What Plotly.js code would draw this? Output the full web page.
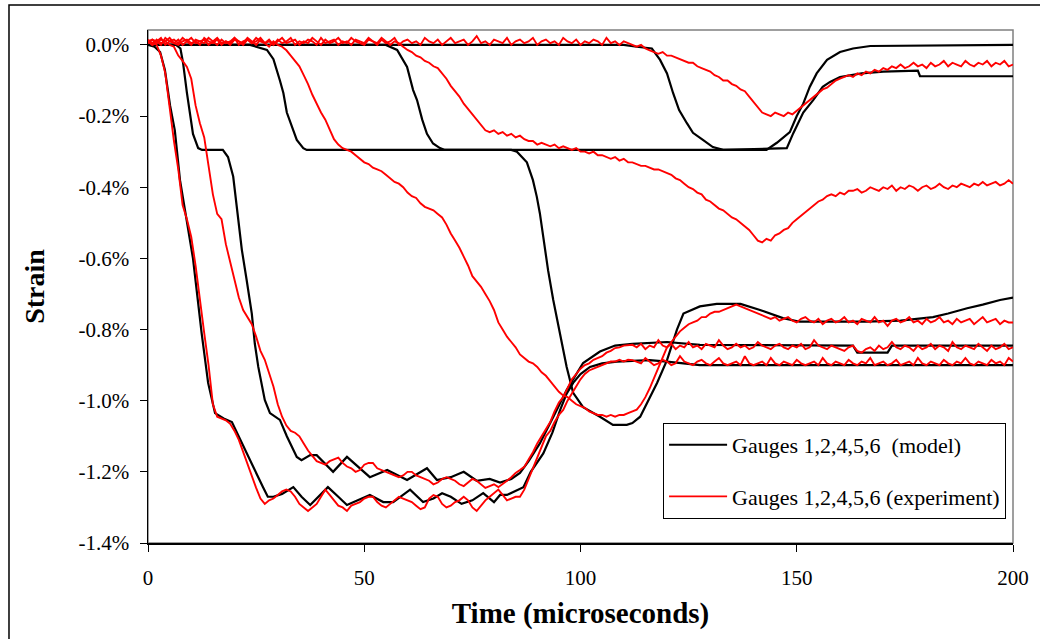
<!DOCTYPE html>
<html>
<head>
<meta charset="utf-8">
<script src="https://cdn.plot.ly/plotly-3.0.1.min.js"></script>
<style>html,body{margin:0;padding:0;background:#fff;}#chart{width:1040px;height:639px;}</style>
</head>
<body>
<div id="chart"></div>
<script>
// ---- Model curves (time in microseconds, strain in %) ----
const g1T = [0,1.5,2.8,3.9,5.1,6.2,7.4,8.5,10.4,12.4,13.9,15.5,17.5,19.4,21.3,24.3,26.6,27.7,29,31,33.6,35.5,37.5,39.5,41.6,44,46,48.5,51.3,54.4,56.7,60.6,63.6,66,68,70,72.5,75,77.5,80,81.4,83,86.8,88.5,91.4,93.5,95.3,96.8,98.3,100,102.2,105,108.4,112,116,120,123.8,127.6,200];
const g1S = [0,-0.005,-0.02,-0.07,-0.17,-0.24,-0.38,-0.46,-0.6,-0.81,-0.95,-1.035,-1.05,-1.06,-1.11,-1.185,-1.243,-1.27,-1.27,-1.262,-1.243,-1.27,-1.293,-1.27,-1.243,-1.27,-1.293,-1.28,-1.265,-1.285,-1.285,-1.25,-1.285,-1.275,-1.26,-1.27,-1.29,-1.28,-1.26,-1.285,-1.265,-1.265,-1.243,-1.2,-1.148,-1.09,-1.026,-0.98,-0.95,-0.925,-0.905,-0.895,-0.89,-0.888,-0.886,-0.89,-0.894,-0.9,-0.9];

const g2T = [0,6.5,7.5,8.1,9,9.7,10.4,11.6,12.5,17.3,18.5,19.7,20.5,21.7,22.8,24,24.7,25.5,27,28.2,30.5,32.1,34.4,35.5,37.5,39,42.8,46,51.3,55.3,59.9,64.5,66.8,70,73,76,79,81.4,84,86,88,90.6,93.7,96.8,100.6,104.5,108,112,120,127.6,163,164,171,172,200];
const g2S = [0,0,-0.01,-0.05,-0.135,-0.19,-0.25,-0.29,-0.295,-0.295,-0.315,-0.37,-0.455,-0.576,-0.66,-0.755,-0.84,-0.905,-0.998,-1.035,-1.054,-1.1,-1.158,-1.167,-1.153,-1.153,-1.2,-1.158,-1.215,-1.195,-1.223,-1.19,-1.223,-1.215,-1.2,-1.225,-1.22,-1.23,-1.22,-1.203,-1.17,-1.12,-1.046,-0.97,-0.894,-0.862,-0.845,-0.84,-0.835,-0.843,-0.845,-0.865,-0.865,-0.845,-0.845];

const g4T = [0,23.6,27.5,29,30.5,31.3,32.1,33.3,34.4,35.9,36.7,84,85.3,87.6,89,89.9,90.6,91.4,92.5,93.7,95.3,96.8,98.3,100.6,104.5,107.5,110.7,112,113.8,115.4,117.7,120,122.3,123.8,127.6,131.5,137,141.5,146.8,150.7,166,174,181.5,185,189.4,193,197,200];
const g4S = [0,0,-0.014,-0.04,-0.1,-0.135,-0.19,-0.23,-0.267,-0.29,-0.295,-0.295,-0.3,-0.33,-0.38,-0.427,-0.473,-0.54,-0.633,-0.717,-0.81,-0.905,-0.978,-1.018,-1.045,-1.068,-1.068,-1.063,-1.045,-1.007,-0.95,-0.886,-0.8,-0.755,-0.735,-0.728,-0.728,-0.745,-0.768,-0.778,-0.778,-0.775,-0.765,-0.755,-0.74,-0.73,-0.717,-0.71];

const g5T = [0,55,57.6,59.9,61.3,62.2,63.4,64.5,65.9,67.5,68.5,143,145.4,148.4,150,151.5,153,154.6,157,160,163,167,200];
const g5S = [0,0,-0.014,-0.062,-0.127,-0.155,-0.21,-0.25,-0.277,-0.29,-0.295,-0.295,-0.275,-0.245,-0.2,-0.165,-0.118,-0.08,-0.042,-0.02,-0.01,-0.003,0];

const g6T = [0,110,113,116.5,118.4,120,121.4,122.8,124.6,126,128.3,130.6,133,147.7,149.2,151.5,153.8,156,157.7,160,165,170,178,178.5,200];
const g6S = [0,0,-0.005,-0.01,-0.042,-0.08,-0.135,-0.183,-0.22,-0.247,-0.267,-0.287,-0.295,-0.29,-0.248,-0.19,-0.155,-0.118,-0.104,-0.09,-0.08,-0.075,-0.072,-0.088,-0.088];

// ---- Experiment curves: one sample per microsecond from t = 0 to 200 (strain in %) ----
const r1S = [0.01,0.015,0.0,-0.03,-0.08,-0.18,-0.27,-0.35,-0.45,-0.49,
-0.54,-0.62,-0.72,-0.81,-0.9,-1.01,-1.045,-1.05,-1.055,-1.065,
-1.085,-1.11,-1.145,-1.18,-1.215,-1.245,-1.275,-1.29,-1.28,-1.275,
-1.265,-1.255,-1.25,-1.255,-1.27,-1.29,-1.3,-1.31,-1.3,-1.29,
-1.27,-1.25,-1.265,-1.28,-1.295,-1.3,-1.31,-1.295,-1.29,-1.285,
-1.275,-1.27,-1.27,-1.285,-1.295,-1.3,-1.29,-1.28,-1.27,-1.275,
-1.28,-1.285,-1.295,-1.305,-1.3,-1.275,-1.265,-1.27,-1.29,-1.3,
-1.295,-1.285,-1.28,-1.27,-1.28,-1.3,-1.31,-1.295,-1.28,-1.27,
-1.26,-1.25,-1.265,-1.28,-1.275,-1.27,-1.27,-1.25,-1.22,-1.19,
-1.165,-1.13,-1.1,-1.085,-1.06,-1.04,-1.026,-1.0,-0.98,-0.96,
-0.94,-0.925,-0.915,-0.91,-0.905,-0.9,-0.895,-0.89,-0.89,-0.885,
-0.89,-0.885,-0.886,-0.89,-0.895,-0.88,-0.89,-0.9,-0.895,-0.885,
-0.89,-0.9,-0.895,-0.875,-0.89,-0.895,-0.9,-0.89,-0.885,-0.895,
-0.9,-0.89,-0.88,-0.895,-0.9,-0.895,-0.89,-0.9,-0.875,-0.895,
-0.9,-0.895,-0.89,-0.9,-0.88,-0.895,-0.9,-0.89,-0.895,-0.9,
-0.885,-0.895,-0.9,-0.895,-0.89,-0.9,-0.88,-0.895,-0.9,-0.89,
-0.895,-0.9,-0.885,-0.895,-0.9,-0.89,-0.895,-0.88,-0.9,-0.895,
-0.89,-0.9,-0.895,-0.885,-0.9,-0.895,-0.89,-0.9,-0.88,-0.895,
-0.9,-0.89,-0.895,-0.9,-0.885,-0.895,-0.9,-0.89,-0.895,-0.88,
-0.895,-0.9,-0.89,-0.895,-0.9,-0.885,-0.895,-0.89,-0.9,-0.88,
-0.89];

const r2S = [0.01,0.0,0.015,0.005,0.01,0.0,-0.005,-0.03,-0.045,-0.062,
-0.095,-0.17,-0.22,-0.26,-0.34,-0.42,-0.475,-0.49,-0.56,-0.61,
-0.66,-0.71,-0.745,-0.765,-0.785,-0.82,-0.86,-0.885,-0.92,-0.96,
-1.01,-1.045,-1.07,-1.085,-1.09,-1.1,-1.12,-1.14,-1.155,-1.17,
-1.175,-1.18,-1.17,-1.165,-1.16,-1.175,-1.185,-1.19,-1.2,-1.195,
-1.18,-1.175,-1.175,-1.19,-1.195,-1.2,-1.205,-1.21,-1.215,-1.21,
-1.2,-1.2,-1.21,-1.215,-1.22,-1.225,-1.235,-1.23,-1.22,-1.215,
-1.22,-1.225,-1.235,-1.24,-1.23,-1.22,-1.225,-1.235,-1.245,-1.24,
-1.235,-1.243,-1.235,-1.225,-1.215,-1.203,-1.195,-1.186,-1.165,-1.145,
-1.12,-1.1,-1.08,-1.06,-1.03,-1.005,-0.99,-0.965,-0.94,-0.925,
-0.91,-0.9,-0.895,-0.885,-0.88,-0.875,-0.865,-0.86,-0.852,-0.85,
-0.845,-0.845,-0.843,-0.85,-0.84,-0.855,-0.845,-0.85,-0.83,-0.845,
-0.85,-0.84,-0.855,-0.845,-0.85,-0.835,-0.85,-0.845,-0.855,-0.84,
-0.845,-0.85,-0.83,-0.845,-0.855,-0.85,-0.84,-0.85,-0.845,-0.855,
-0.85,-0.835,-0.845,-0.85,-0.855,-0.845,-0.84,-0.85,-0.855,-0.845,
-0.85,-0.84,-0.855,-0.85,-0.83,-0.845,-0.85,-0.855,-0.845,-0.85,
-0.855,-0.86,-0.85,-0.845,-0.86,-0.865,-0.855,-0.85,-0.86,-0.845,
-0.855,-0.85,-0.835,-0.85,-0.855,-0.845,-0.85,-0.86,-0.845,-0.855,
-0.85,-0.84,-0.855,-0.845,-0.85,-0.86,-0.835,-0.85,-0.855,-0.845,
-0.85,-0.855,-0.84,-0.85,-0.86,-0.845,-0.855,-0.85,-0.84,-0.855,
-0.85];

const r4S = [0.005,0.015,0.01,0.0,0.02,0.01,0.005,0.015,0.0,0.01,
0.02,0.005,0.01,0.015,0.0,0.01,0.02,0.005,0.01,0.0,
0.015,0.01,0.005,0.02,0.01,0.0,0.015,0.005,-0.005,0.01,
0.0,-0.005,-0.015,-0.03,-0.045,-0.06,-0.085,-0.11,-0.14,-0.165,
-0.19,-0.21,-0.24,-0.265,-0.28,-0.29,-0.295,-0.3,-0.31,-0.32,
-0.33,-0.335,-0.345,-0.35,-0.355,-0.365,-0.375,-0.385,-0.39,-0.4,
-0.415,-0.425,-0.43,-0.445,-0.455,-0.46,-0.465,-0.475,-0.485,-0.505,
-0.53,-0.55,-0.57,-0.595,-0.62,-0.65,-0.665,-0.68,-0.7,-0.72,
-0.745,-0.78,-0.8,-0.82,-0.835,-0.85,-0.87,-0.88,-0.89,-0.895,
-0.905,-0.92,-0.93,-0.945,-0.96,-0.975,-0.985,-0.99,-1.0,-1.01,
-1.015,-1.02,-1.03,-1.035,-1.04,-1.04,-1.045,-1.04,-1.045,-1.04,
-1.04,-1.035,-1.03,-1.025,-1.01,-0.99,-0.965,-0.935,-0.905,-0.875,
-0.85,-0.835,-0.82,-0.805,-0.795,-0.785,-0.78,-0.775,-0.765,-0.765,
-0.755,-0.75,-0.75,-0.745,-0.74,-0.735,-0.73,-0.735,-0.74,-0.745,
-0.75,-0.755,-0.76,-0.765,-0.77,-0.765,-0.775,-0.77,-0.765,-0.775,
-0.78,-0.77,-0.765,-0.775,-0.78,-0.77,-0.785,-0.775,-0.77,-0.78,
-0.775,-0.765,-0.78,-0.775,-0.785,-0.77,-0.775,-0.78,-0.765,-0.78,
-0.775,-0.79,-0.775,-0.77,-0.78,-0.775,-0.765,-0.78,-0.775,-0.785,
-0.77,-0.78,-0.775,-0.765,-0.78,-0.775,-0.785,-0.77,-0.78,-0.775,
-0.77,-0.785,-0.775,-0.765,-0.78,-0.775,-0.77,-0.785,-0.775,-0.78,
-0.78];

const r5S = [0.01,0.0,0.005,0.015,0.01,0.02,0.005,0.0,0.01,0.015,
0.005,0.01,0.0,0.02,0.01,0.005,0.015,0.0,0.01,0.005,
0.02,0.01,0.0,0.015,0.005,0.01,0.02,0.005,0.01,0.0,
0.015,0.005,0.01,0.02,0.0,0.01,0.005,0.015,0.01,0.0,
0.02,0.005,0.01,0.015,0.0,0.01,0.005,0.02,0.01,0.005,
0.0,0.015,0.01,0.005,0.02,0.01,0.0,0.01,0.005,-0.005,
-0.014,-0.02,-0.03,-0.035,-0.045,-0.05,-0.06,-0.065,-0.08,-0.095,
-0.115,-0.13,-0.145,-0.165,-0.18,-0.195,-0.21,-0.225,-0.24,-0.245,
-0.24,-0.25,-0.245,-0.255,-0.25,-0.26,-0.255,-0.265,-0.27,-0.27,
-0.28,-0.275,-0.28,-0.285,-0.28,-0.29,-0.285,-0.29,-0.295,-0.29,
-0.3,-0.3,-0.305,-0.3,-0.31,-0.31,-0.315,-0.32,-0.315,-0.325,
-0.32,-0.33,-0.33,-0.335,-0.34,-0.34,-0.345,-0.35,-0.35,-0.355,
-0.36,-0.365,-0.375,-0.38,-0.39,-0.4,-0.405,-0.415,-0.42,-0.435,
-0.44,-0.45,-0.46,-0.465,-0.475,-0.485,-0.49,-0.5,-0.51,-0.52,
-0.535,-0.55,-0.555,-0.545,-0.55,-0.535,-0.53,-0.52,-0.515,-0.5,
-0.49,-0.48,-0.47,-0.46,-0.45,-0.44,-0.435,-0.425,-0.42,-0.425,
-0.415,-0.42,-0.41,-0.41,-0.405,-0.415,-0.41,-0.4,-0.405,-0.41,
-0.4,-0.405,-0.395,-0.41,-0.4,-0.405,-0.395,-0.4,-0.41,-0.4,
-0.395,-0.405,-0.4,-0.39,-0.4,-0.405,-0.395,-0.4,-0.39,-0.395,
-0.4,-0.39,-0.395,-0.385,-0.395,-0.39,-0.385,-0.395,-0.39,-0.38,
-0.39];

const r6S = [0.015,0.005,0.01,0.02,0.0,0.01,0.015,0.005,0.02,0.01,
0.0,0.015,0.01,0.005,0.02,0.01,0.0,0.015,0.005,0.01,
0.02,0.0,0.01,0.015,0.005,0.02,0.01,0.005,0.015,0.0,
0.01,0.02,0.005,0.01,0.015,0.0,0.01,0.005,0.02,0.01,
0.0,0.015,0.005,0.01,0.02,0.005,0.01,0.0,0.015,0.01,
0.005,0.02,0.01,0.0,0.015,0.005,0.01,0.02,0.0,0.01,
0.015,0.005,0.01,0.0,0.02,0.01,0.005,0.015,0.0,0.01,
0.02,0.005,0.01,0.015,0.0,0.01,0.025,0.005,0.01,0.0,
0.015,0.01,0.005,0.02,0.0,0.01,0.015,0.005,0.01,0.02,
0.0,0.01,0.015,0.005,0.01,0.0,0.02,0.01,0.005,0.015,
0.0,0.01,0.005,0.015,0.01,0.0,0.02,0.005,0.01,0.0,
0.01,0.005,0.0,-0.005,0.0,-0.01,-0.015,-0.02,-0.025,-0.02,
-0.03,-0.03,-0.035,-0.04,-0.045,-0.05,-0.05,-0.06,-0.065,-0.07,
-0.075,-0.085,-0.09,-0.1,-0.1,-0.11,-0.115,-0.125,-0.13,-0.145,
-0.16,-0.175,-0.19,-0.195,-0.2,-0.19,-0.195,-0.2,-0.19,-0.195,
-0.185,-0.175,-0.165,-0.155,-0.145,-0.135,-0.125,-0.12,-0.11,-0.1,
-0.095,-0.09,-0.085,-0.09,-0.08,-0.085,-0.075,-0.08,-0.07,-0.075,
-0.065,-0.07,-0.06,-0.065,-0.055,-0.065,-0.06,-0.05,-0.06,-0.055,
-0.065,-0.05,-0.06,-0.055,-0.045,-0.06,-0.05,-0.055,-0.06,-0.045,
-0.055,-0.06,-0.05,-0.055,-0.045,-0.06,-0.05,-0.055,-0.045,-0.06,
-0.055];

// ---- Axis ticks and labels ----
const xTickVals = [0, 50, 100, 150, 200];
const yTickVals = [0, -0.2, -0.4, -0.6, -0.8, -1.0, -1.2, -1.4];
const yTickText = ['0.0%', '-0.2%', '-0.4%', '-0.6%', '-0.8%', '-1.0%', '-1.2%', '-1.4%'];
const legendModel = 'Gauges 1,2,4,5,6  (model)';
const legendExp = 'Gauges 1,2,4,5,6 (experiment)';
const xTitle = 'Time (microseconds)';
const yTitle = 'Strain';

const serif = 'Liberation Serif, Times New Roman, serif';

const modelSets = [[g1T, g1S], [g2T, g2S], [g4T, g4S], [g5T, g5S], [g6T, g6S]];
const expSets = [r1S, r2S, r4S, r5S, r6S];

const traces = [];
modelSets.forEach((m, i) => {
  traces.push({
    type: 'scatter', mode: 'lines', x: m[0], y: m[1],
    line: {color: '#000000', width: 2.2},
    name: legendModel, legendgroup: 'model', showlegend: i === 0,
    hoverinfo: 'skip'
  });
});
expSets.forEach((s, i) => {
  traces.push({
    type: 'scatter', mode: 'lines', x0: 0, dx: 1, y: s,
    line: {color: '#ff0000', width: 1.9},
    name: legendExp, legendgroup: 'exp', showlegend: i === 0,
    hoverinfo: 'skip'
  });
});

const layout = {
  width: 1040, height: 639,
  margin: {l: 148, r: 27, t: 30, b: 96, pad: 0},
  paper_bgcolor: '#ffffff', plot_bgcolor: '#ffffff',
  font: {family: serif, color: '#000000', size: 21},
  showlegend: true,
  legend: {
    x: 0.992, xanchor: 'right', y: 0.234, yanchor: 'top',
    bgcolor: '#ffffff', bordercolor: '#000000', borderwidth: 1,
    font: {family: serif, size: 22, color: '#000000'},
    traceorder: 'grouped', tracegroupgap: 20, itemwidth: 58
  },
  xaxis: {
    range: [0, 200], tickvals: xTickVals, ticks: 'outside', ticklen: 7, tickwidth: 1, tickcolor: '#000',
    showline: true, linecolor: '#000', linewidth: 1.5, showgrid: false, zeroline: false,
    ticklabelstandoff: 8,
    tickfont: {family: serif, size: 21, color: '#000'},
    title: {text: xTitle, font: {family: serif, size: 29, color: '#000', weight: 700}, standoff: 14}
  },
  yaxis: {
    range: [-1.4, 0.042], tickvals: yTickVals, ticktext: yTickText, ticks: 'outside', ticklen: 7, tickwidth: 1, tickcolor: '#000',
    showline: true, linecolor: '#000', linewidth: 1.5, showgrid: false, zeroline: false,
    ticklabelstandoff: 6,
    tickfont: {family: serif, size: 21, color: '#000'},
    title: {text: yTitle, font: {family: serif, size: 28, color: '#000', weight: 700}, standoff: 25}
  },
  shapes: [
    {type: 'rect', xref: 'paper', yref: 'paper', x0: 0, x1: 1, y0: 0, y1: 1,
     line: {color: '#808080', width: 1.5}, layer: 'below'},
    {type: 'rect', xref: 'paper', yref: 'paper', x0: -0.1607, x1: 1.2, y0: -0.3, y1: 1.0487,
     line: {color: '#000000', width: 1.5}, layer: 'above'}
  ]
};

Plotly.newPlot('chart', traces, layout, {staticPlot: true, displayModeBar: false});
</script>
</body>
</html>
